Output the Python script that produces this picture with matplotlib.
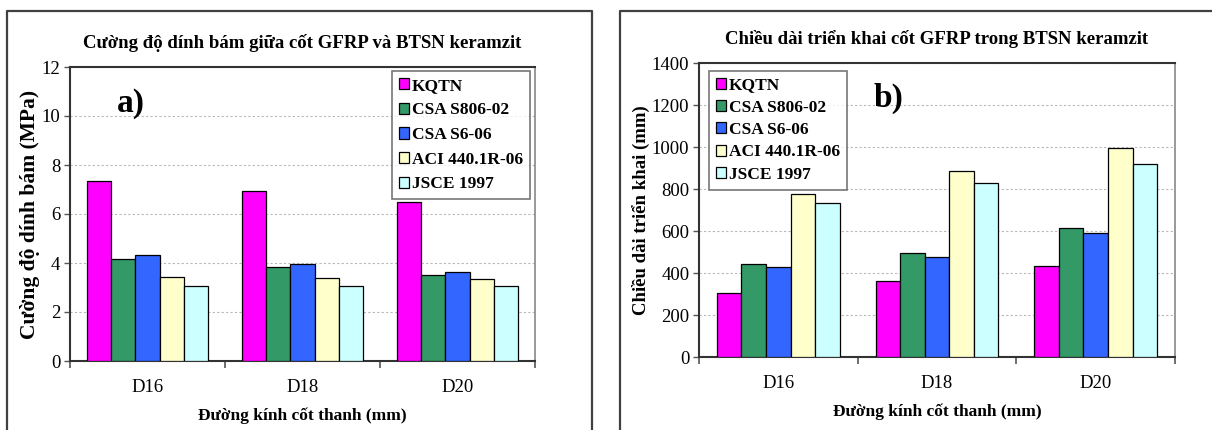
import matplotlib
matplotlib.use("Agg")
import matplotlib.pyplot as plt
from matplotlib.lines import Line2D
import numpy as np

plt.rcParams['font.family'] = ['Liberation Serif', 'DejaVu Serif']

categories = ["D16", "D18", "D20"]
series_names = ["KQTN", "CSA S806-02", "CSA S6-06", "ACI 440.1R-06", "JSCE 1997"]
series_colors = ["#FF00FF", "#339966", "#3366FF", "#FFFFCC", "#CCFFFF"]

# Bond strength (MPa)
bond_kqtn = [7.35, 6.94, 6.47]
bond_s806 = [4.15, 3.82, 3.52]
bond_s6 = [4.34, 3.97, 3.64]
bond_aci = [3.43, 3.37, 3.33]
bond_jsce = [3.08, 3.08, 3.08]

# Development length (mm)
len_kqtn = [305, 363, 434]
len_s806 = [444, 494, 613]
len_s6 = [428, 474, 591]
len_aci = [777, 886, 995]
len_jsce = [735, 828, 918]

W, H = 1212, 430
fig = plt.figure(figsize=(W / 100, H / 100), dpi=100)


def px_axes(x0, y0, x1, y1):
    return fig.add_axes([x0 / W, 1 - y1 / H, (x1 - x0) / W, (y1 - y0) / H])


def frame(points):
    xs = [p[0] / W for p in points]
    ys = [1 - p[1] / H for p in points]
    fig.lines.append(Line2D(xs, ys, transform=fig.transFigure, color="#404040", lw=1.6))


# panel frames (open at the bottom)
frame([(7, 430), (7, 10.5), (592, 10.5), (592, 430)])
frame([(620, 430), (620, 10.5), (1212, 10.5)])


def draw_panel(ax, data, ymax, ystep, title, ylabel, ylabel_size, tag, tag_xy,
               legend_loc, legend_anchor, legend_spacing):
    x = np.arange(len(categories))
    w = 0.155
    for i, (vals, name, col) in enumerate(zip(data, series_names, series_colors)):
        ax.bar(x + (i - 2) * w, vals, width=w, color=col, edgecolor="black",
               linewidth=0.9, label=name, zorder=3)
    ax.set_xlim(-0.5, len(categories) - 0.5)
    ax.set_ylim(0, ymax)
    ax.set_yticks(np.arange(0, ymax + ystep / 2, ystep))
    ax.set_xticks(x)
    ax.set_xticklabels(categories)
    ax.set_xticks(np.arange(-0.5, len(categories), 1.0), minor=True)
    ax.tick_params(axis="x", which="major", length=0, pad=13, labelsize=13.5)
    ax.tick_params(axis="x", which="minor", length=5, width=1.2, color="#555555")
    ax.tick_params(axis="y", length=4, width=1.0, color="#555555", labelsize=13.5, pad=3)
    ax.yaxis.grid(True, color="#b8b8b8", lw=0.8, linestyle=(0, (2, 2)), zorder=0)
    ax.set_axisbelow(True)
    for s in ("left", "bottom", "top"):
        ax.spines[s].set_color("#333333")
        ax.spines[s].set_linewidth(1.5)
    ax.spines["right"].set_color("#888888")
    ax.spines["right"].set_linewidth(1.2)
    ax.set_title(title, fontsize=13.5, fontweight="bold", pad=14)
    ax.set_ylabel(ylabel, fontsize=ylabel_size, fontweight="bold", labelpad=1)
    ax.set_xlabel("Đường kính cốt thanh (mm)", fontsize=12.5, fontweight="bold", labelpad=8)
    ax.text(tag_xy[0], tag_xy[1], tag, transform=ax.transAxes, fontsize=24,
            fontweight="bold", ha="left", va="center")
    leg = ax.legend(loc=legend_loc, bbox_to_anchor=legend_anchor, frameon=True,
                    fancybox=False, prop={"weight": "bold", "size": 12.5},
                    handlelength=0.6, handleheight=0.6, handletextpad=0.15,
                    labelspacing=legend_spacing, borderpad=0.4, borderaxespad=0.0)
    leg.get_frame().set_edgecolor("#555555")
    leg.get_frame().set_linewidth(1.2)
    leg.set_zorder(10)
    return leg


axL = px_axes(70, 67, 535, 361)
draw_panel(axL, [bond_kqtn, bond_s806, bond_s6, bond_aci, bond_jsce], 12, 2,
           "Cường độ dính bám giữa cốt GFRP và BTSN keramzit",
           "Cường độ dính bám (MPa)", 15.5, "a)", (0.1, 0.877),
           "upper right", (0.989, 0.987), 0.5)

axR = px_axes(699, 63, 1175, 357)
draw_panel(axR, [len_kqtn, len_s806, len_s6, len_aci, len_jsce], 1400, 200,
           "Chiều dài triển khai cốt GFRP trong BTSN keramzit",
           "Chiều dài triển khai (mm)", 13.5, "b)", (0.366, 0.878),
           "upper left", (0.021, 0.974), 0.36)

fig.savefig("out.png", dpi=100)
